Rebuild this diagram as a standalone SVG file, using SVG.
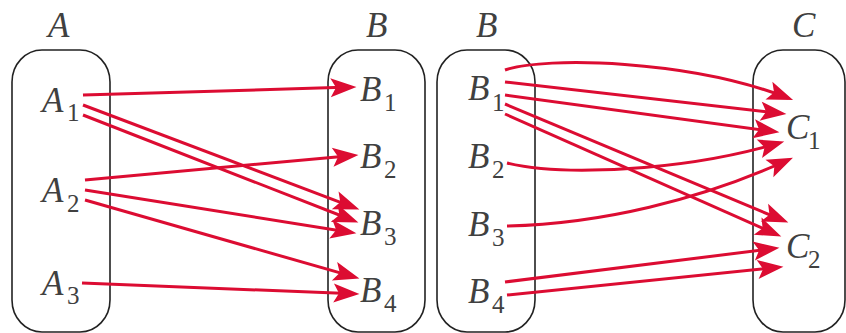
<svg xmlns="http://www.w3.org/2000/svg" width="846" height="333" viewBox="0 0 846 333">
<style>
.box{fill:none;stroke:#222;stroke-width:1.6}
.lbl{font-family:"Liberation Serif","Times New Roman",serif;font-style:italic;font-size:35px;fill:#404040}
.sub{font-family:"Liberation Serif","Times New Roman",serif;font-style:normal;font-size:25px;fill:#404040}
.arr{fill:none;stroke:#dc0c32;stroke-width:3;marker-end:url(#ah)}
</style>
<defs>
<marker id="ah" markerUnits="userSpaceOnUse" orient="auto" refX="0" refY="0" markerWidth="30" markerHeight="30" viewBox="-16 -8 22 16" overflow="visible">
<path d="M4,0 L-15,-7 L-11,0 L-15,7 Z" fill="#dc0c32"/>
</marker>
</defs>
<rect width="846" height="333" fill="#fff"/>
<g id="setA">
<rect class="box" x="12" y="50" width="98" height="282" rx="30" ry="32"/>
<text class="lbl" x="48" y="37">A</text>
<text class="lbl" x="42" y="112">A</text><text class="sub" x="67" y="121">1</text>
<text class="lbl" x="42" y="202">A</text><text class="sub" x="67" y="212">2</text>
<text class="lbl" x="42" y="295">A</text><text class="sub" x="67" y="304">3</text>
</g>
<g id="setB1">
<rect class="box" x="328" y="50" width="97" height="282" rx="30" ry="32"/>
<text class="lbl" x="366" y="37">B</text>
<text class="lbl" x="360" y="101">B</text><text class="sub" x="384" y="111">1</text>
<text class="lbl" x="360" y="168">B</text><text class="sub" x="384" y="178">2</text>
<text class="lbl" x="360" y="235">B</text><text class="sub" x="384" y="245">3</text>
<text class="lbl" x="360" y="302">B</text><text class="sub" x="384" y="312">4</text>
</g>
<g id="setB2">
<rect class="box" x="437" y="50" width="98" height="282" rx="30" ry="32"/>
<text class="lbl" x="476" y="37">B</text>
<text class="lbl" x="468" y="100">B</text><text class="sub" x="492" y="111">1</text>
<text class="lbl" x="468" y="168">B</text><text class="sub" x="492" y="178">2</text>
<text class="lbl" x="468" y="236">B</text><text class="sub" x="492" y="246">3</text>
<text class="lbl" x="468" y="303">B</text><text class="sub" x="492" y="313">4</text>
</g>
<g id="setC">
<rect class="box" x="753" y="50" width="92" height="282" rx="30" ry="32"/>
<text class="lbl" x="792" y="37">C</text>
<text class="lbl" x="786" y="139">C</text><text class="sub" x="808" y="149">1</text>
<text class="lbl" x="786" y="258">C</text><text class="sub" x="808" y="268">2</text>
</g>
<g id="connectors">
<path class="arr" d="M83,95 L351,87.1"/>
<path class="arr" d="M83,105 L354.3,207.6"/>
<path class="arr" d="M83,115 L353.3,220.5"/>
<path class="arr" d="M85,180 L353,155.4"/>
<path class="arr" d="M85,190 L351,232.4"/>
<path class="arr" d="M85,200 L354.2,276.9"/>
<path class="arr" d="M82,283 L354,293.8"/>
<path class="arr" d="M505,70 C545,56 690,60 788,98"/>
<path class="arr" d="M505,82 L781,113.5"/>
<path class="arr" d="M505,95 L774,131.5"/>
<path class="arr" d="M507,163 C560,176 680,172 779,143"/>
<path class="arr" d="M507,226 C600,224 700,200 788,160"/>
<path class="arr" d="M505,104 L783.3,220.5"/>
<path class="arr" d="M505,114 L776.3,234.4"/>
<path class="arr" d="M505,282 L774,248.5"/>
<path class="arr" d="M507,295 L778,267.4"/>
</g>
</svg>
